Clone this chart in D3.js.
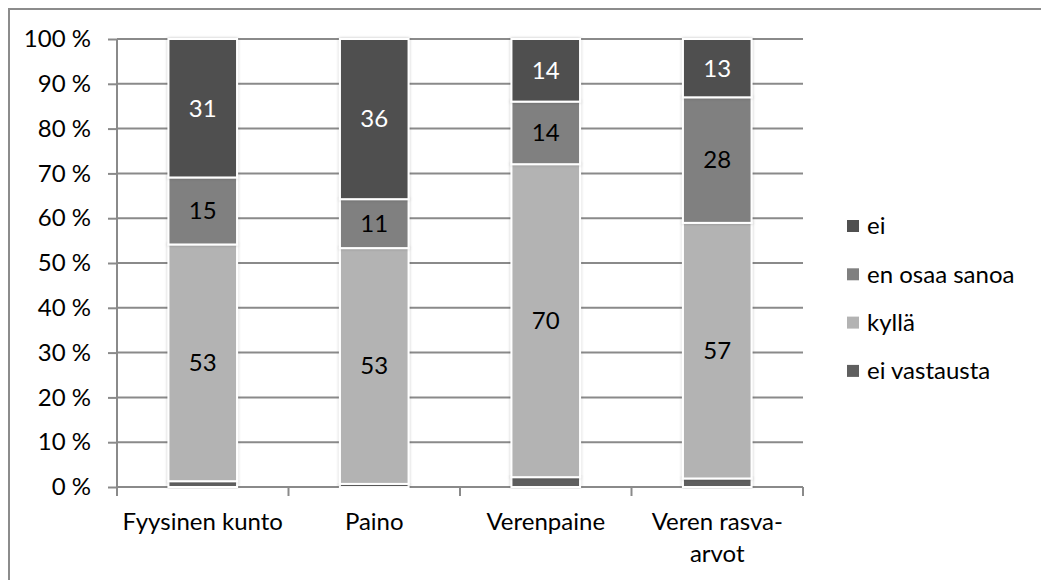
<!DOCTYPE html>
<html>
<head>
<meta charset="utf-8">
<script src="https://cdn.jsdelivr.net/npm/d3@7"></script>
<style>
  body { margin: 0; background: #fff; }
  text { font-family: Lato, "Open Sans", sans-serif; }
</style>
</head>
<body>
<div id="chart"></div>
<script>
// categories and series
const categories = ["Fyysinen kunto", "Paino", "Verenpaine", "Veren rasva-arvot"]
const categoryLines = [["Fyysinen kunto"], ["Paino"], ["Verenpaine"], ["Veren rasva-", "arvot"]]
const eiVastausta = [1.3, 0.7, 2.2, 1.9]
const kylla = [53, 53, 70, 57]
const enOsaaSanoa = [15, 11, 14, 28]
const ei = [31, 36, 14, 13]
const seriesNames = ["ei vastausta", "kyllä", "en osaa sanoa", "ei"]
const yTicks = [0, 0.1, 0.2, 0.3, 0.4, 0.5, 0.6, 0.7, 0.8, 0.9, 1]

const width = 1041, height = 580
const fontSize = 24

const colors = {
  "ei vastausta": "#5f5f5f",
  "kyllä": "#b3b3b3",
  "en osaa sanoa": "#808080",
  "ei": "#505050"
}
const labelColors = { "kyllä": "#000", "en osaa sanoa": "#000", "ei": "#fff" }

// build rows for d3.stack
const data = categories.map(function (c, i) {
  return { cat: c, "ei vastausta": eiVastausta[i], "kyllä": kylla[i], "en osaa sanoa": enOsaaSanoa[i], "ei": ei[i] }
})

const svg = d3.select("#chart").append("svg")
  .attr("width", width)
  .attr("height", height)

// chart frame (only top and left show in the picture)
svg.append("rect")
  .attr("x", 9).attr("y", 9)
  .attr("width", width + 20).attr("height", height + 20)
  .attr("fill", "none")
  .attr("stroke", "#8c8c8c")
  .attr("stroke-width", 2)

const x = d3.scaleBand()
  .domain(categories)
  .range([117, 803])
  .padding(0)

const y = d3.scaleLinear()
  .domain([0, 1])
  .range([487, 39])

// gridlines
svg.append("g")
  .selectAll("line")
  .data(yTicks.slice(1))
  .enter().append("line")
  .attr("x1", 117).attr("x2", 803)
  .attr("y1", function (d) { return y(d) }).attr("y2", function (d) { return y(d) })
  .attr("stroke", "#8a8a8a")
  .attr("stroke-width", 2)

// y axis
const yAxis = svg.append("g")
  .attr("transform", "translate(117,0)")
  .call(d3.axisLeft(y).tickValues(yTicks).tickSize(9).tickPadding(17)
    .tickFormat(function (d) { return Math.round(d * 100) + " %" }))
yAxis.selectAll("line, path").attr("stroke", "#8a8a8a").attr("stroke-width", 2)
yAxis.select("path").attr("d", "M0," + y(1) + "V" + y(0))
yAxis.selectAll("text")
  .style("font-size", fontSize + "px")
  .style("font-family", "Lato, sans-serif")
  .attr("fill", "#000")

// x axis line with ticks at band boundaries
svg.append("line")
  .attr("x1", 117).attr("x2", 803)
  .attr("y1", y(0)).attr("y2", y(0))
  .attr("stroke", "#8a8a8a").attr("stroke-width", 2)

const bounds = categories.map(function (c) { return x(c) }).concat([x.range()[1]])
svg.append("g")
  .selectAll("line")
  .data(bounds)
  .enter().append("line")
  .attr("x1", function (d) { return d }).attr("x2", function (d) { return d })
  .attr("y1", y(0)).attr("y2", y(0) + 9)
  .attr("stroke", "#8a8a8a").attr("stroke-width", 2)

// category labels
const catLabels = svg.append("g")
  .selectAll("text")
  .data(categories)
  .enter().append("text")
  .attr("x", function (d) { return x(d) + x.bandwidth() / 2 })
  .attr("y", 530)
  .attr("text-anchor", "middle")
  .style("font-size", fontSize + "px")
  .attr("fill", "#000")
catLabels.each(function (d, i) {
  const t = d3.select(this)
  categoryLines[i].forEach(function (line, j) {
    t.append("tspan")
      .attr("x", x(d) + x.bandwidth() / 2)
      .attr("dy", j === 0 ? 0 : 32)
      .text(line)
  })
})

// soft shadow like the original
const defs = svg.append("defs")
const f = defs.append("filter").attr("id", "shadow").attr("x", "-20%").attr("y", "-20%").attr("width", "140%").attr("height", "140%")
f.append("feDropShadow").attr("dx", 0).attr("dy", 0).attr("stdDeviation", 1.5).attr("flood-color", "#000").attr("flood-opacity", 0.25)

// stacked bars, normalised to 100 %
const stacked = d3.stack()
  .keys(seriesNames)
  .offset(d3.stackOffsetExpand)(data)

const barW = x.bandwidth() * 0.4

const layers = svg.append("g")
  .selectAll("g")
  .data(stacked)
  .enter().append("g")
  .attr("fill", function (d) { return colors[d.key] })

layers.selectAll("rect")
  .data(function (d) { return d })
  .enter().append("rect")
  .attr("x", function (d) { return x(d.data.cat) + (x.bandwidth() - barW) / 2 })
  .attr("y", function (d) { return y(d[1]) })
  .attr("height", function (d) { return y(d[0]) - y(d[1]) })
  .attr("width", barW)
  .attr("stroke", "#fff")
  .attr("stroke-width", 2)
  .attr("filter", "url(#shadow)")

// data labels (not on the thin "ei vastausta" segment)
layers.filter(function (d) { return d.key !== "ei vastausta" })
  .selectAll("text")
  .data(function (d) { return d.map(function (p) { return { p: p, key: d.key } }) })
  .enter().append("text")
  .attr("x", function (d) { return x(d.p.data.cat) + x.bandwidth() / 2 })
  .attr("y", function (d) { return (y(d.p[0]) + y(d.p[1])) / 2 })
  .attr("dy", "0.35em")
  .attr("text-anchor", "middle")
  .style("font-size", fontSize + "px")
  .attr("fill", function (d) { return labelColors[d.key] })
  .text(function (d) { return d.p.data[d.key] })

// legend
const legendKeys = ["ei", "en osaa sanoa", "kyllä", "ei vastausta"]
const legend = svg.selectAll(".legend")
  .data(legendKeys)
  .enter().append("g")
  .attr("class", "legend")
  .attr("transform", function (d, i) { return "translate(847," + (226 + i * 48.3) + ")" })

legend.append("rect")
  .attr("x", 0).attr("y", -6)
  .attr("width", 12).attr("height", 12)
  .attr("fill", function (d) { return colors[d] })

legend.append("text")
  .attr("x", 20)
  .attr("y", 0)
  .attr("dy", "0.35em")
  .style("font-size", fontSize + "px")
  .attr("fill", "#000")
  .text(function (d) { return d })
</script>
</body>
</html>
